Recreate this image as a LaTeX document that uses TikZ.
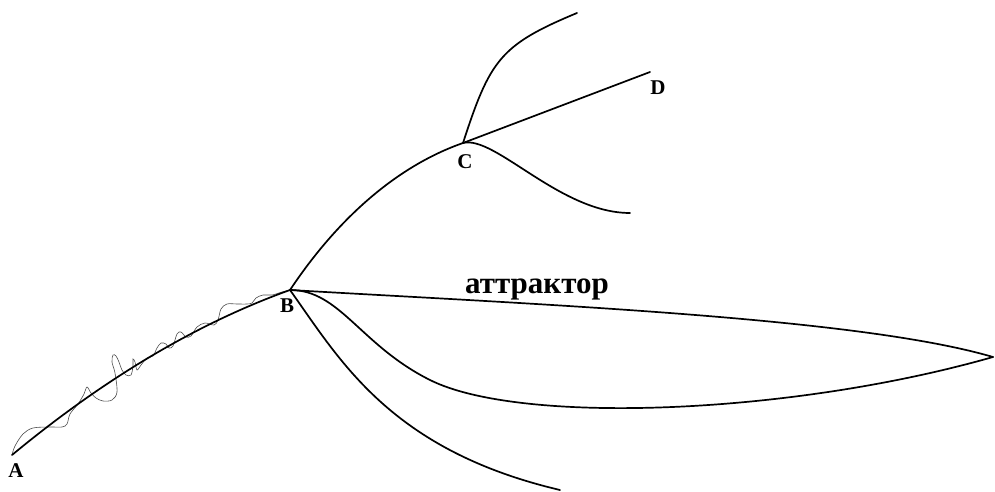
\documentclass[tikz,border=0pt]{standalone}
\usepackage{fontspec}
\setmainfont{Liberation Serif}
\begin{document}
\begin{tikzpicture}[x=1pt,y=-1pt,
  branch/.style={line width=1.7pt,line cap=round},
  wig/.style={line width=0.6pt,gray!60!black},
  lab/.style={font=\fontsize{21}{24}\selectfont\bfseries,anchor=base,inner sep=0pt},
  biglab/.style={font=\fontsize{31}{36}\selectfont\bfseries,anchor=base,inner sep=0pt}]
\useasboundingbox (0,0) rectangle (995,492);
% key points
\coordinate (A) at (12,455);
\coordinate (B) at (290,290);
\coordinate (C) at (463,143);
\coordinate (D) at (650,72);
\coordinate (Cup) at (577,13);
\coordinate (Clow) at (630,213);
\coordinate (T) at (993,357);
\coordinate (Mid) at (430,380);
\coordinate (Bot) at (560,490);
% wavy trajectory
\draw[wig] plot[smooth,tension=0.55] coordinates {
  (12,455) (15,446) (23,434) (33,428) (50,427) (62,427) (67,424) (70,414)
  (78,404) (84,394) (87,387) (91,393) (96,398) (103,401) (112,400) (117,392)
  (115,373) (112,362) (113,355) (116,356) (119,362) (122,370) (126,375)
  (131,375) (133,366) (133,359) (135,362) (137,370) (141,365) (147,358)
  (153,356) (157,348) (161,343) (166,344) (169,348) (173,346) (177,334)
  (181,332) (186,337) (191,336) (197,327) (205,323) (214,325) (218,320)
  (221,309) (227,304) (237,304) (247,304) (252,303) (256,298) (263,295)
  (272,295) (282,292) (290,290)};
% main branches
\draw[branch] (A) .. controls (104.7,378.3) and (197.3,323.3) .. (B);
\draw[branch] (B) .. controls (340,215) and (400,165) .. (C);
\draw[branch] (C) -- (D);
\draw[branch] (C) .. controls (490,60) and (500,45) .. (Cup);
\draw[branch] (C) .. controls (495,135) and (560,213) .. (Clow);
\draw[branch] (B) .. controls (550,305) and (860,318) .. (T);
\draw[branch] (B) .. controls (340,290) and (360,345) .. (Mid)
   .. controls (520,425) and (790,415) .. (T);
\draw[branch] (B) .. controls (340,360) and (390,450) .. (Bot);
% labels
\node[lab] (lA) at (16,477) {A};
\node[lab] (lB) at (287,312) {B};
\node[lab] (lC) at (465,168) {C};
\node[lab] (lD) at (658,95) {D};
\node[biglab] (latt) at (537,293) {аттрактор};
\end{tikzpicture}
\end{document}
